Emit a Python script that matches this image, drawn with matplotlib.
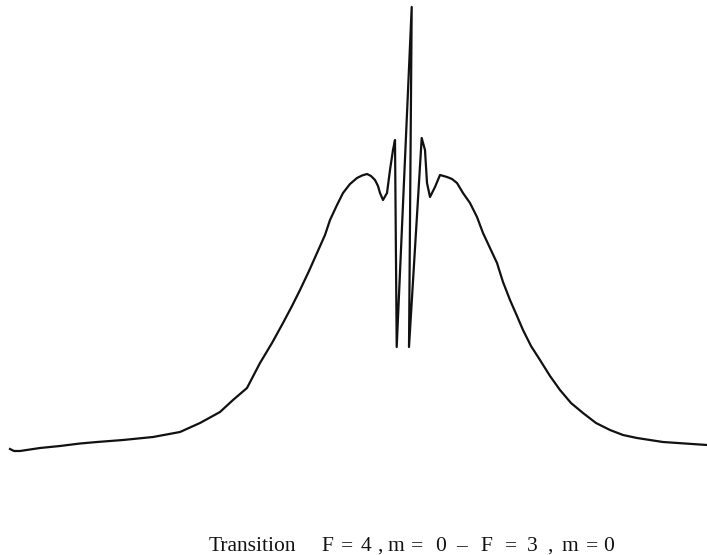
import matplotlib
matplotlib.use("Agg")
import matplotlib.pyplot as plt

# Detuning (arbitrary units) and signal (arbitrary units) traced from the recording
detuning = [10, 14, 20, 30, 40, 60, 80, 97, 123, 153, 180, 200, 220, 233, 247,
            260, 272, 283, 292, 300, 309, 317, 325, 330, 337, 343, 350, 357,
            362, 367, 371, 375, 378, 380, 383, 387, 390, 393, 395, 396.7,
            411.7, 409, 421.7, 425, 427, 430, 435, 440, 447, 452, 457, 463,
            470, 477, 483, 490, 497, 503, 510, 517, 523, 531, 540, 550, 560,
            571, 583, 596, 610, 623, 637, 650, 663, 685, 707]
signal_y = [449, 451, 451, 449.5, 448, 446, 443.5, 442, 440, 437, 432, 423, 412, 400, 388,
            363, 343, 323, 306, 290, 271, 253, 235, 220, 205, 193, 184, 178,
            175.5, 174, 176, 180, 186, 193, 200, 193, 170, 150, 140, 347,
            7, 347, 138, 150, 183, 197, 187, 175, 177, 179, 183, 193,
            203, 217, 233, 248, 263, 282, 300, 316, 330, 346, 360, 376, 390,
            403, 413, 423, 430, 435, 438, 440, 442, 443.5, 445]
signal = [555 - v for v in signal_y]

# Caption tokens and their horizontal centres
caption_tokens = ["Transition", "F", "=", "4", ",", "m", "=", "0", "\u2013",
                  "F", "=", "3", ",", "m", "=", "0"]
caption_x = [252, 327, 347, 366, 380, 396, 417, 441, 462,
             486, 511, 532, 550, 570, 592, 609]

fig = plt.figure(figsize=(7.07, 5.55), dpi=100)
ax = fig.add_axes([0, 0, 1, 1])
ax.plot(detuning, signal, color="#111111", lw=1.6, solid_joinstyle="round")
ax.set_xlim(0, 707)
ax.set_ylim(0, 555)
ax.axis("off")
for tok, xc in zip(caption_tokens, caption_x):
    ax.text(xc, 4, tok, ha="center", va="baseline", fontsize=15.5,
            family="Liberation Serif", color="#111111")
fig.savefig("out.png", dpi=100)
